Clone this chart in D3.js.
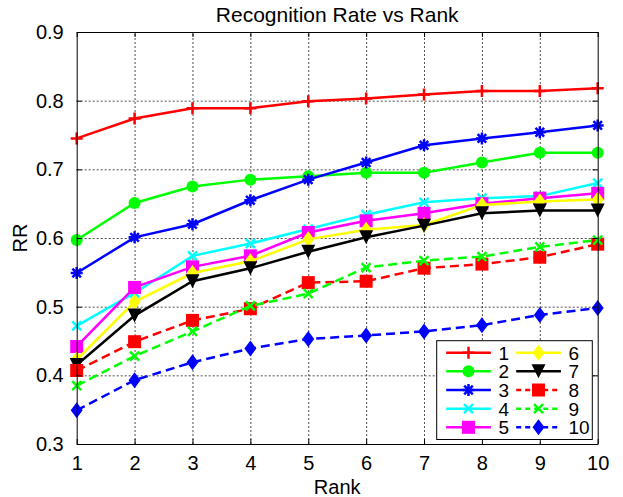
<!DOCTYPE html>
<html>
<head>
<meta charset="utf-8">
<script src="https://cdn.jsdelivr.net/npm/d3@7"></script>
<style>
  body { margin: 0; background: #fff; }
  svg { display: block; font-family: "Liberation Sans", Arial, sans-serif; }
</style>
</head>
<body>
<div id="chart"></div>
<script>
const ranks = [1, 2, 3, 4, 5, 6, 7, 8, 9, 10];
const xTicks = [1, 2, 3, 4, 5, 6, 7, 8, 9, 10];
const yTicks = [0.3, 0.4, 0.5, 0.6, 0.7, 0.8, 0.9];
const seriesNames = ["1", "2", "3", "4", "5", "6", "7", "8", "9", "10"];

const s1 = [0.745, 0.774, 0.789, 0.789, 0.799, 0.803, 0.809, 0.814, 0.814, 0.818];
const s2 = [0.597, 0.651, 0.675, 0.685, 0.690, 0.695, 0.695, 0.710, 0.724, 0.724];
const s3 = [0.549, 0.601, 0.620, 0.655, 0.685, 0.710, 0.735, 0.745, 0.754, 0.764];
const s4 = [0.472, 0.520, 0.574, 0.592, 0.613, 0.634, 0.652, 0.658, 0.661, 0.680];
const s5 = [0.442, 0.528, 0.558, 0.574, 0.608, 0.625, 0.636, 0.650, 0.658, 0.665];
const s6 = [0.423, 0.507, 0.549, 0.566, 0.598, 0.612, 0.619, 0.648, 0.653, 0.656];
const s7 = [0.415, 0.487, 0.537, 0.556, 0.580, 0.601, 0.618, 0.636, 0.640, 0.640];
const s8 = [0.407, 0.449, 0.480, 0.497, 0.535, 0.537, 0.556, 0.562, 0.572, 0.591];
const s9 = [0.385, 0.428, 0.464, 0.501, 0.519, 0.557, 0.567, 0.573, 0.587, 0.597];
const s10 = [0.349, 0.393, 0.419, 0.439, 0.453, 0.458, 0.464, 0.473, 0.488, 0.498];
const seriesValues = [s1, s2, s3, s4, s5, s6, s7, s8, s9, s10];

const colors = ["#ff0000", "#00ff00", "#0000ff", "#00ffff", "#ff00ff",
                "#ffff00", "#000000", "#ff0000", "#00ff00", "#0000ff"];
const markers = ["plus", "circle", "asterisk", "x", "square",
                 "diamond", "triangleDown", "square", "x", "diamond"];
const dashed = [false, false, false, false, false, false, false, true, true, true];

const width = 623, height = 497;
const margin = { top: 32, right: 25.3, bottom: 53, left: 76.7 };

const x = d3.scaleLinear()
    .domain([1, 10])
    .range([margin.left, width - margin.right]);

const y = d3.scaleLinear()
    .domain([0.3, 0.9])
    .range([height - margin.bottom, margin.top]);

// marker shapes, drawn around (0,0)
const markerPath = {
    plus: "M-6,0H6M0,-6V6",
    x: "M-4.5,-4.5L4.5,4.5M-4.5,4.5L4.5,-4.5",
    asterisk: "M-6,0H6M0,-6V6M-4.3,-4.3L4.3,4.3M-4.3,4.3L4.3,-4.3",
    square: "M-6.5,-6.5H6.5V6.5H-6.5Z",
    diamond: "M0,-8L6,0L0,8L-6,0Z",
    triangleDown: "M-7,-7H7L0,7Z"
};
const strokeOnly = { plus: true, x: true, asterisk: true };

function drawMarker(g, type, color) {
    if (type === "circle") {
        g.append("circle").attr("r", 6).attr("fill", color);
    } else if (strokeOnly[type]) {
        g.append("path").attr("d", markerPath[type])
            .attr("fill", "none").attr("stroke", color).attr("stroke-width", 2.5);
    } else {
        g.append("path").attr("d", markerPath[type]).attr("fill", color);
    }
}

const svg = d3.select("#chart").append("svg")
    .attr("width", width)
    .attr("height", height);

// Title
svg.append("text")
    .attr("x", (x.range()[0] + x.range()[1]) / 2)
    .attr("y", 22)
    .attr("text-anchor", "middle")
    .attr("font-size", "21px")
    .text("Recognition Rate vs Rank");

// Grid lines (dotted)
svg.append("g")
    .attr("transform", `translate(0,${y(0.3)})`)
    .call(d3.axisBottom(x).tickValues(xTicks.slice(1, -1))
        .tickSize(-(y(0.3) - y(0.9))).tickFormat(""))
    .call(g => g.select(".domain").remove())
    .selectAll("line")
    .attr("stroke", "#222")
    .attr("stroke-width", 0.8)
    .attr("stroke-dasharray", "2,2");

svg.append("g")
    .attr("transform", `translate(${x(1)},0)`)
    .call(d3.axisLeft(y).tickValues(yTicks.slice(1, -1))
        .tickSize(-(x(10) - x(1))).tickFormat(""))
    .call(g => g.select(".domain").remove())
    .selectAll("line")
    .attr("stroke", "#222")
    .attr("stroke-width", 0.8)
    .attr("stroke-dasharray", "2,2");

// Series
const line = d3.line()
    .x((d, i) => x(ranks[i]))
    .y(d => y(d));

seriesValues.forEach((vals, k) => {
    const g = svg.append("g");
    g.append("path")
        .datum(vals)
        .attr("fill", "none")
        .attr("stroke", colors[k])
        .attr("stroke-width", 2.5)
        .attr("stroke-dasharray", dashed[k] ? "9,5" : null)
        .attr("d", line);
    vals.forEach((v, i) => {
        const m = g.append("g").attr("transform", `translate(${x(ranks[i])},${y(v)})`);
        drawMarker(m, markers[k], colors[k]);
    });
});

// Axes box with inward ticks
const tickLen = 5;
svg.append("g")
    .attr("transform", `translate(0,${y(0.3)})`)
    .call(d3.axisBottom(x).tickValues(xTicks).tickSize(-tickLen).tickPadding(12).tickSizeOuter(0))
    .call(g => g.selectAll("text").attr("font-size", "20px").attr("fill", "#000")
        .attr("font-family", "Liberation Sans, Arial, sans-serif"));

svg.append("g")
    .attr("transform", `translate(0,${y(0.9)})`)
    .call(d3.axisTop(x).tickValues(xTicks).tickSize(-tickLen).tickFormat("").tickSizeOuter(0));

svg.append("g")
    .attr("transform", `translate(${x(1)},0)`)
    .call(d3.axisLeft(y).tickValues(yTicks).tickSize(-tickLen).tickPadding(13)
        .tickFormat(d3.format(".1f")).tickSizeOuter(0))
    .call(g => g.selectAll("text").attr("font-size", "20px").attr("fill", "#000")
        .attr("font-family", "Liberation Sans, Arial, sans-serif"));

svg.append("g")
    .attr("transform", `translate(${x(10)},0)`)
    .call(d3.axisRight(y).tickValues(yTicks).tickSize(-tickLen).tickFormat("").tickSizeOuter(0));

svg.selectAll(".domain").attr("stroke", "#000");

// Axis labels
svg.append("text")
    .attr("x", (x.range()[0] + x.range()[1]) / 2)
    .attr("y", 494)
    .attr("text-anchor", "middle")
    .attr("font-size", "20px")
    .text("Rank");

svg.append("text")
    .attr("transform", `translate(27,${(y(0.3) + y(0.9)) / 2}) rotate(-90)`)
    .attr("text-anchor", "middle")
    .attr("font-size", "20px")
    .text("RR");

// Legend
const legend = svg.append("g").attr("transform", "translate(436.7,340.7)");
legend.append("rect")
    .attr("width", 155.6)
    .attr("height", 98.8)
    .attr("fill", "#fff")
    .attr("stroke", "#000")
    .attr("stroke-width", 1);

seriesNames.forEach((name, k) => {
    const col = Math.floor(k / 5), row = k % 5;
    const lx = 9.5 + col * 70;
    const ly = 12 + row * 18.65;
    const item = legend.append("g").attr("transform", `translate(${lx},${ly})`);
    item.append("line")
        .attr("x1", 0).attr("x2", 44.7)
        .attr("stroke", colors[k])
        .attr("stroke-width", 2.5)
        .attr("stroke-dasharray", dashed[k] ? "5,4" : null);
    const m = item.append("g").attr("transform", "translate(22.3,0)");
    drawMarker(m, markers[k], colors[k]);
    item.append("text")
        .attr("x", 52.3)
        .attr("y", 7)
        .attr("font-size", "19px")
        .text(name);
});
</script>
</body>
</html>
